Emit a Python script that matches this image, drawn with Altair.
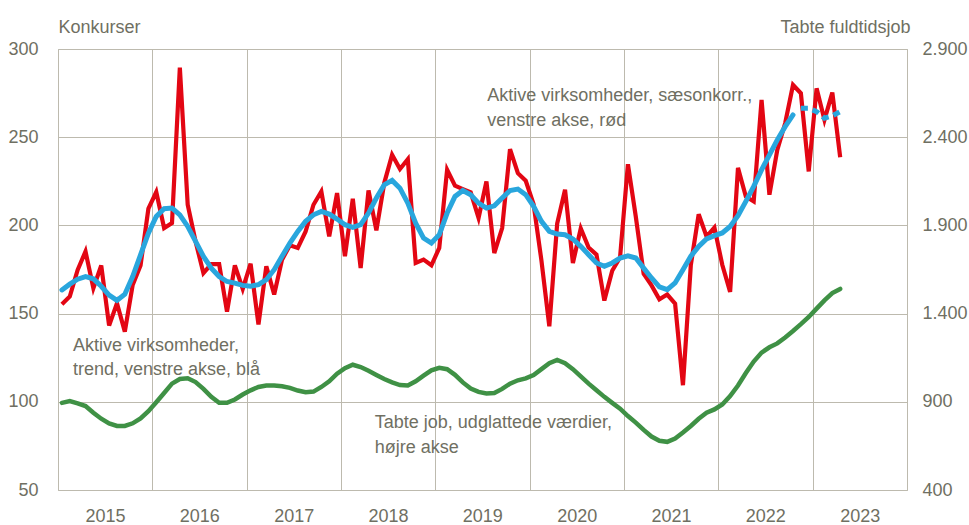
import altair as alt
import pandas as pd

# ---- data (monthly, Jan 2015 .. Apr 2023) ----
red_values = [155.3, 159.7, 174.8, 185.2, 164.4, 177.3, 143.2, 155.9, 139.8, 166.3,
              177.3, 209.5, 218.9, 198.5, 201.3, 289.4, 211.7, 190.9, 172.9, 178.0,
              178.0, 151.1, 177.3, 164.0, 178.3, 143.8, 176.8, 160.8, 180.6, 188.7,
              187.2, 196.6, 211.7, 219.2, 193.8, 218.3, 182.5, 215.1, 175.8, 219.8,
              197.2, 224.0, 240.0, 232.0, 237.5, 178.7, 180.6, 177.4, 187.2, 231.5,
              222.5, 220.6, 218.7, 204.2, 224.9, 184.3, 198.5, 243.2, 229.6, 225.3,
              212.0, 180.0, 142.8, 201.0, 220.2, 178.7, 198.3, 187.5, 183.4, 157.4,
              174.3, 181.9, 234.7, 205.0, 172.6, 166.0, 158.1, 160.8, 155.7, 109.4,
              177.5, 206.3, 193.7, 198.8, 177.7, 162.3, 232.6, 216.4, 213.6, 271.1,
              217.4, 242.8, 257.9, 279.6, 274.9, 230.6, 277.7, 259.8, 275.3, 238.7]

blue_values = [163.4, 166.7, 169.5, 171.0, 169.7, 165.5, 160.5, 157.5, 161.0, 171.0,
               183.3, 195.6, 205.1, 209.5, 209.8, 206.0, 199.4, 190.9, 182.4, 175.8,
               171.0, 168.2, 167.3, 166.0, 165.5, 166.4, 169.2, 174.9, 182.5, 190.0,
               196.6, 202.3, 206.0, 207.9, 206.4, 203.6, 200.4, 198.9, 200.4, 207.0,
               215.5, 223.0, 225.5, 221.1, 212.6, 201.3, 192.8, 190.0, 194.7, 207.0,
               216.4, 219.8, 217.4, 212.6, 209.8, 211.1, 215.5, 219.8, 220.6, 217.4,
               210.8, 202.3, 196.6, 195.1, 194.7, 192.3, 188.1, 183.4, 178.7, 176.8,
               178.7, 181.5, 182.8, 181.5, 175.8, 170.2, 165.1, 163.6, 167.4, 174.9,
               182.5, 188.1, 192.3, 194.2, 195.7, 199.4, 205.5, 213.6, 222.1, 231.5,
               240.0, 248.5, 256.0, 262.6, 266.4, 266.4, 264.5, 260.8, 262.1, 264.5]
blue_solid_last = 93  # trend is solid up to this month, dashed afterwards

green_values = [894, 904, 891, 876, 838, 804, 778, 763, 763, 778,
                806, 847, 898, 950, 1003, 1029, 1033, 1012, 973, 928,
                894, 894, 913, 941, 965, 984, 992, 992, 988, 979,
                964, 954, 958, 984, 1016, 1059, 1091, 1110, 1097, 1076,
                1052, 1029, 1010, 995, 992, 1016, 1048, 1078, 1093, 1085,
                1053, 1010, 975, 956, 947, 950, 973, 1003, 1022, 1033,
                1052, 1085, 1119, 1137, 1119, 1085, 1044, 1003, 965, 928,
                894, 861, 819, 782, 741, 703, 679, 673, 692, 726,
                763, 804, 838, 857, 885, 932, 992, 1063, 1128, 1179,
                1209, 1231, 1265, 1301, 1340, 1381, 1428, 1475, 1516, 1540]

first_year = 2015
n_years = 9
left_ticks = [50, 100, 150, 200, 250, 300]
right_ticks = [400, 900, 1400, 1900, 2400, 2900]

annotations = [
    ("Aktive virksomheder, sæsonkorr.,", 54.6, 270.7),
    ("venstre akse, rød", 54.6, 256.5),
    ("Aktive virksomheder,", 1.9, 129.0),
    ("trend, venstre akse, blå", 1.9, 115.2),
    ("Tabte job, udglattede værdier,", 40.3, 85.1),
    ("højre akse", 40.3, 71.0),
]

# ---- styles ----
FONT = "Liberation Sans"
FS = 18
TXT = "#6f6f62"
GRID = "#bdbaae"
RED = "#e30613"
BLUE = "#29a6dd"
GREEN = "#3f9145"

months = list(range(len(red_values)))
xs = [m + 0.5 for m in months]

df_red = pd.DataFrame({"x": xs, "v": red_values})
df_blue_solid = pd.DataFrame({"x": xs[:blue_solid_last + 1], "v": blue_values[:blue_solid_last + 1]})
df_blue_dash = pd.DataFrame({"x": xs[blue_solid_last + 1:], "v": blue_values[blue_solid_last + 1:]})
df_green = pd.DataFrame({"x": xs, "g": green_values})
df_ann = pd.DataFrame(annotations, columns=["t", "x", "v"])

total_months = 12 * n_years
x_enc = alt.X(
    "x:Q",
    scale=alt.Scale(domain=[0, total_months], nice=False, zero=False),
    axis=alt.Axis(
        values=list(range(0, total_months + 1, 12)),
        labelExpr=f"datum.value >= {total_months} ? '' : toString({first_year} + datum.value/12)",
        labelOffset=47, labelFlush=False, labelOverlap=False, labelPadding=17,
        grid=True, gridColor=GRID, gridWidth=1, ticks=False, domain=False, title=None,
        labelFont=FONT, labelFontSize=FS, labelColor=TXT,
    ),
)

y_left = alt.Y(
    "v:Q",
    scale=alt.Scale(domain=[50, 300], nice=False, zero=False),
    axis=alt.Axis(
        values=left_ticks, grid=True, gridColor=GRID, gridWidth=1, ticks=False, domain=False,
        labelPadding=20, labelFont=FONT, labelFontSize=FS, labelColor=TXT,
        title="Konkurser", titleAngle=0, titleAlign="left", titleBaseline="alphabetic",
        titleX=0, titleY=-17, titleFont=FONT, titleFontSize=FS, titleFontWeight="normal",
        titleColor=TXT,
    ),
)

y_right = alt.Y(
    "g:Q",
    scale=alt.Scale(domain=[400, 2900], nice=False, zero=False),
    axis=alt.Axis(
        orient="right", values=right_ticks, grid=False, ticks=False, domain=False,
        labelExpr="replace(format(datum.value, ','), ',', '.')",
        labelPadding=15, labelFont=FONT, labelFontSize=FS, labelColor=TXT,
        title="Tabte fuldtidsjob", titleAngle=0, titleAlign="right", titleBaseline="alphabetic",
        titleX=3, titleY=-17, titleFont=FONT, titleFontSize=FS, titleFontWeight="normal",
        titleColor=TXT,
    ),
)

red_line = alt.Chart(df_red).mark_line(color=RED, strokeWidth=4.2).encode(x=x_enc, y=y_left)
blue_line = alt.Chart(df_blue_solid).mark_line(color=BLUE, strokeWidth=5, strokeCap="round").encode(x=x_enc, y=y_left)
blue_dash = alt.Chart(df_blue_dash).mark_line(color=BLUE, strokeWidth=5, strokeDash=[7, 5]).encode(x=x_enc, y=y_left)
ann = alt.Chart(df_ann).mark_text(
    align="left", baseline="alphabetic", font=FONT, fontSize=FS, color=TXT
).encode(x=x_enc, y=y_left, text="t:N")

left = alt.layer(red_line, blue_line, blue_dash, ann)
green_line = alt.Chart(df_green).mark_line(color=GREEN, strokeWidth=4.5, strokeCap="round").encode(x=x_enc, y=y_right)

chart = (
    alt.layer(left, green_line)
    .resolve_scale(y="independent")
    .properties(
        width=849, height=441,
        autosize=alt.AutoSizeParams(type="none"),
        padding={"left": 58, "top": 49, "right": 62, "bottom": 35},
        background="white",
    )
    .configure_view(stroke=GRID, strokeWidth=1)
)

chart.save("out.html", embed_options={"renderer": "svg", "actions": False})
